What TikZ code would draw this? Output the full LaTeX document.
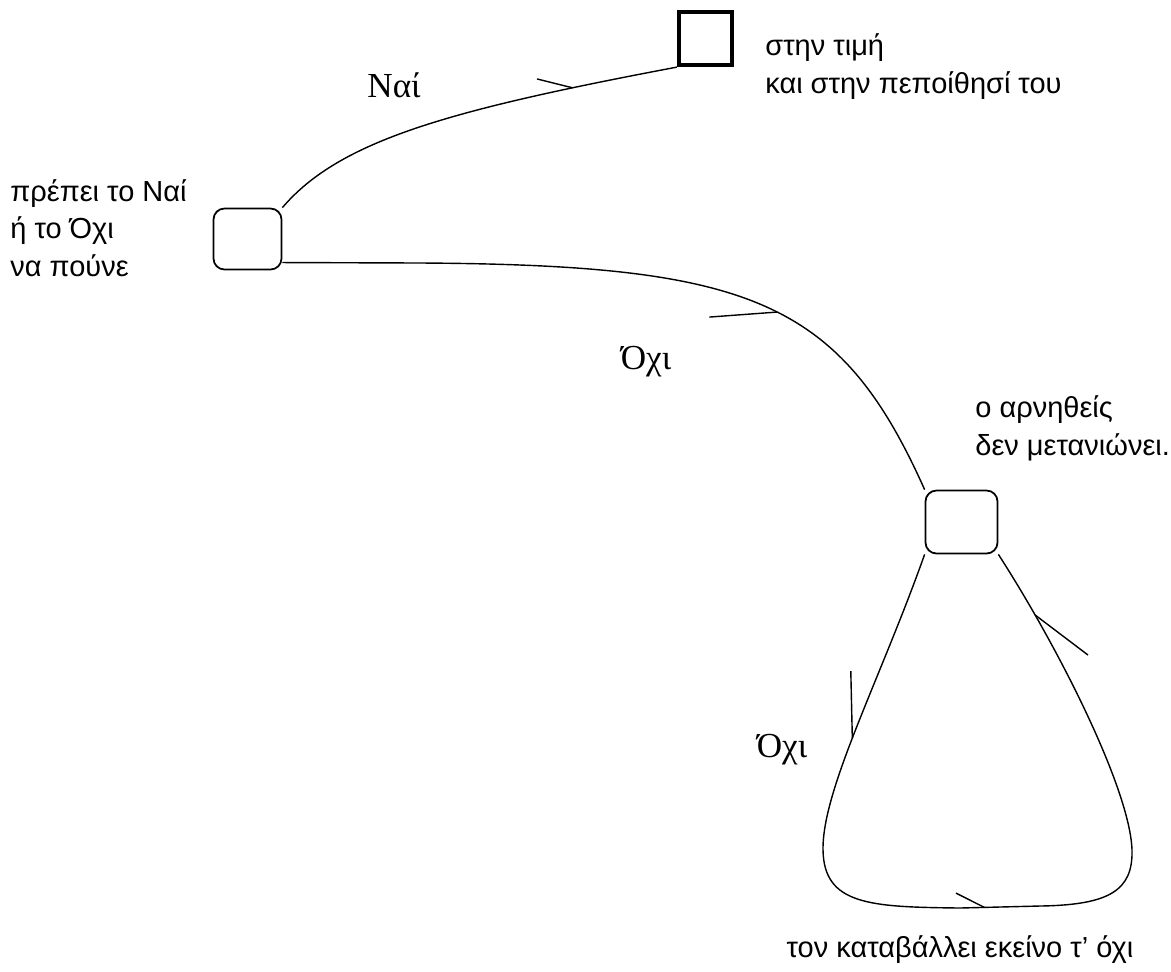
\documentclass[tikz,border=0pt]{standalone}
\usepackage{fontspec}
\setmainfont{Liberation Serif}
\setsansfont{Liberation Sans}
\usetikzlibrary{decorations.markings}

\begin{document}
\begin{tikzpicture}[
    decision/.style={rectangle, draw, line width=1pt, rounded corners=0.22cm, minimum width=1.36cm, minimum height=1.22cm},
    final/.style={rectangle, draw, line width=2.4pt, minimum size=1.06cm},
    note/.style={font=\sffamily\fontsize{16.5}{21.3}\selectfont, align=left, inner sep=0pt, anchor=west},
    answer/.style={font=\fontsize{20}{24}\selectfont, inner sep=0pt},
    flow/.style={line width=0.8pt},
    barb/.style n args={3}{postaction={decorate, decoration={markings,
        mark=at position #1 with {\draw[line width=0.8pt] (0,0) -- (-#2,#3);}}}}]

\useasboundingbox (0,0) rectangle (23.42,-19.42);

% Nodes
\node [decision] (askbox) at (4.95,-4.78) {};
\node [final] (yesbox) at (14.11,-0.77) {};
\node [decision, minimum width=1.44cm, minimum height=1.26cm] (nobox) at (19.23,-10.44) {};

\node [note] (asktext) at (0.20,-4.56) {πρέπει το Ναί\\ή το Όχι\\να πούνε};
\node [note] (yestext) at (15.30,-1.33) {στην τιμή\\ και στην πεποίθησί του};
\node [note] (notext) at (19.50,-8.57) {ο αρνηθείς\\δεν μετανιώνει.};
\node [note, anchor=center] (looptext) at (19.20,-19.00) {τον καταβάλλει εκείνο τ' όχι};

\node [answer] (yeslabel) at (7.88,-1.70) {Ναί};
\node [answer] (nolabel) at (12.92,-7.24) {Όχι};
\node [answer] (looplabel) at (15.64,-15.00) {Όχι};

% Arrows
\draw [flow, barb={0.75}{0.66}{0.32}] (askbox.north east)
    .. controls (6.80,-2.80) and (9.00,-2.20) .. (yesbox.south west);
\draw [flow, barb={0.68}{1.17}{-0.70}] (askbox.-34) -- (8.40,-5.26)
    .. controls (15.00,-5.30) and (16.80,-6.00) .. (nobox.north west);
\draw [flow, barb={0.195}{1.24}{-0.51}, barb={0.50}{0.56}{0.30}, barb={0.93}{1.22}{-0.52}]
    (nobox.south west) .. controls (17.60,-13.60) and (16.44,-15.80) .. (16.46,-17.00)
    .. controls (16.48,-18.10) and (17.40,-18.14) .. (19.20,-18.16) -- (20.80,-18.12)
    .. controls (22.20,-18.10) and (22.66,-17.80) .. (22.64,-17.00)
    .. controls (22.60,-15.80) and (21.20,-13.00) .. (nobox.south east);

\end{tikzpicture}
\end{document}
